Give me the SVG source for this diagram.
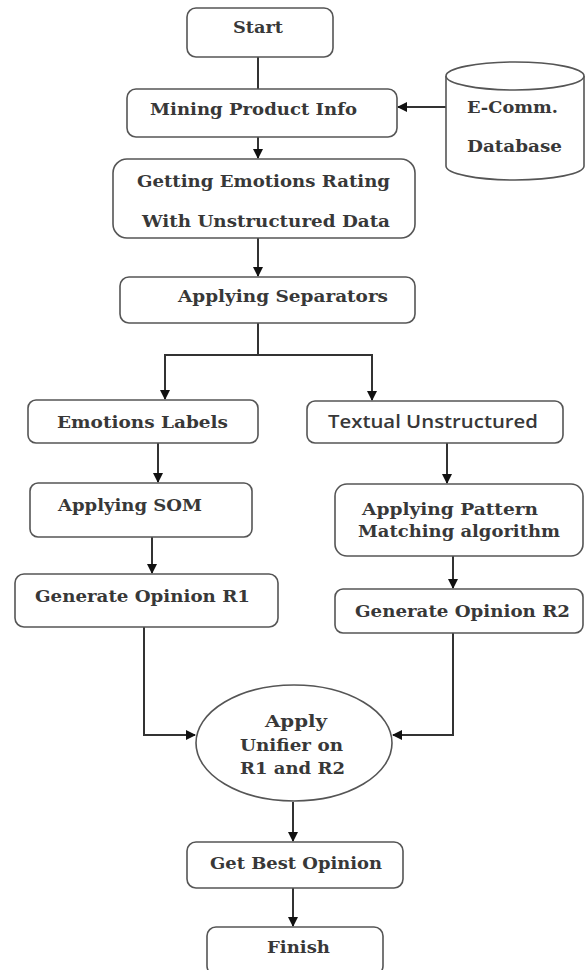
<svg xmlns="http://www.w3.org/2000/svg" width="585" height="970" viewBox="0 0 585 970">
<style>
.box{fill:#fff;stroke:#555;stroke-width:1.6}
.t{font-family:"DejaVu Serif","Liberation Serif",serif;font-size:17.5px;font-weight:bold;fill:#383838}
.s{font-family:"Open Sans","Noto Sans",sans-serif;font-size:18px;font-weight:600;fill:#383838}
.c{fill:none;stroke:#333;stroke-width:2}
</style>
<defs>
<marker id="ah" markerWidth="10" markerHeight="10" refX="9" refY="5" orient="auto" markerUnits="userSpaceOnUse">
<path d="M0,0 L10,5 L0,10 Z" fill="#111"/>
</marker>
</defs>
<rect width="585" height="970" fill="#fff"/>
<g id="connectors">
<line class="c" x1="258" y1="57" x2="258" y2="89"/>
<line class="c" x1="446" y1="107" x2="398" y2="107" marker-end="url(#ah)"/>
<line class="c" x1="258" y1="137" x2="258" y2="158" marker-end="url(#ah)"/>
<line class="c" x1="258" y1="238" x2="258" y2="276" marker-end="url(#ah)"/>
<polyline class="c" points="258,323 258,355"/>
<polyline class="c" points="165,355 372,355"/>
<line class="c" x1="165" y1="354" x2="165" y2="399" marker-end="url(#ah)"/>
<line class="c" x1="372" y1="354" x2="372" y2="400" marker-end="url(#ah)"/>
<line class="c" x1="158" y1="443" x2="158" y2="482" marker-end="url(#ah)"/>
<line class="c" x1="152" y1="537" x2="152" y2="573" marker-end="url(#ah)"/>
<line class="c" x1="447" y1="443" x2="447" y2="483" marker-end="url(#ah)"/>
<line class="c" x1="453" y1="556" x2="453" y2="588" marker-end="url(#ah)"/>
<polyline class="c" points="144,627 144,735 195,735" marker-end="url(#ah)"/>
<polyline class="c" points="453,633 453,735 393,735" marker-end="url(#ah)"/>
<line class="c" x1="293" y1="802" x2="293" y2="841" marker-end="url(#ah)"/>
<line class="c" x1="293" y1="888" x2="293" y2="926" marker-end="url(#ah)"/>
</g>
<g id="start">
<rect class="box" x="187" y="8" width="146" height="49" rx="9"/>
<text class="t" x="233" y="33" textLength="50" lengthAdjust="spacingAndGlyphs">Start</text>
</g>
<g id="mining">
<rect class="box" x="127" y="89" width="270" height="48" rx="9"/>
<text class="t" x="150" y="115" textLength="207" lengthAdjust="spacingAndGlyphs">Mining Product Info</text>
</g>
<g id="database">
<path class="box" d="M446,76 L446,166 A69,14 0 0 0 584,166 L584,76"/>
<ellipse class="box" cx="515" cy="76" rx="69" ry="14"/>
<text class="t" x="467" y="113" textLength="91" lengthAdjust="spacingAndGlyphs">E-Comm.</text>
<text class="t" x="467" y="152" textLength="95" lengthAdjust="spacingAndGlyphs">Database</text>
</g>
<g id="getting">
<rect class="box" x="113" y="159" width="302" height="79" rx="14"/>
<text class="t" x="137" y="187" textLength="253" lengthAdjust="spacingAndGlyphs">Getting Emotions Rating</text>
<text class="t" x="142" y="227" textLength="248" lengthAdjust="spacingAndGlyphs">With Unstructured Data</text>
</g>
<g id="separators">
<rect class="box" x="120" y="277" width="295" height="46" rx="9"/>
<text class="t" x="178" y="302" textLength="210" lengthAdjust="spacingAndGlyphs">Applying Separators</text>
</g>
<g id="emotions">
<rect class="box" x="28" y="400" width="230" height="43" rx="8"/>
<text class="t" x="57" y="428" textLength="171" lengthAdjust="spacingAndGlyphs">Emotions Labels</text>
</g>
<g id="som">
<rect class="box" x="30" y="483" width="222" height="54" rx="8"/>
<text class="t" x="58" y="511" textLength="144" lengthAdjust="spacingAndGlyphs">Applying SOM</text>
</g>
<g id="r1">
<rect class="box" x="15" y="574" width="263" height="53" rx="9"/>
<text class="t" x="35" y="602" textLength="215" lengthAdjust="spacingAndGlyphs">Generate Opinion R1</text>
</g>
<g id="textual">
<rect class="box" x="307" y="401" width="256" height="42" rx="8"/>
<text class="s" x="328" y="428" textLength="210" lengthAdjust="spacingAndGlyphs">Textual Unstructured</text>
</g>
<g id="pattern">
<rect class="box" x="335" y="484" width="248" height="72" rx="12"/>
<text class="t" x="362" y="515" textLength="176" lengthAdjust="spacingAndGlyphs">Applying Pattern</text>
<text class="t" x="358" y="537" textLength="202" lengthAdjust="spacingAndGlyphs">Matching algorithm</text>
</g>
<g id="r2">
<rect class="box" x="335" y="589" width="248" height="44" rx="8"/>
<text class="t" x="355" y="617" textLength="215" lengthAdjust="spacingAndGlyphs">Generate Opinion R2</text>
</g>
<g id="unifier">
<ellipse class="box" cx="294" cy="743" rx="98" ry="58"/>
<text class="t" x="265" y="727" textLength="62" lengthAdjust="spacingAndGlyphs">Apply</text>
<text class="t" x="240" y="751" textLength="103" lengthAdjust="spacingAndGlyphs">Unifier on</text>
<text class="t" x="240" y="774" textLength="105" lengthAdjust="spacingAndGlyphs">R1 and R2</text>
</g>
<g id="best">
<rect class="box" x="187" y="842" width="216" height="46" rx="9"/>
<text class="t" x="210" y="869" textLength="172" lengthAdjust="spacingAndGlyphs">Get Best Opinion</text>
</g>
<g id="finish">
<rect class="box" x="207" y="927" width="176" height="48" rx="9"/>
<text class="t" x="267" y="953" textLength="63" lengthAdjust="spacingAndGlyphs">Finish</text>
</g>
</svg>
